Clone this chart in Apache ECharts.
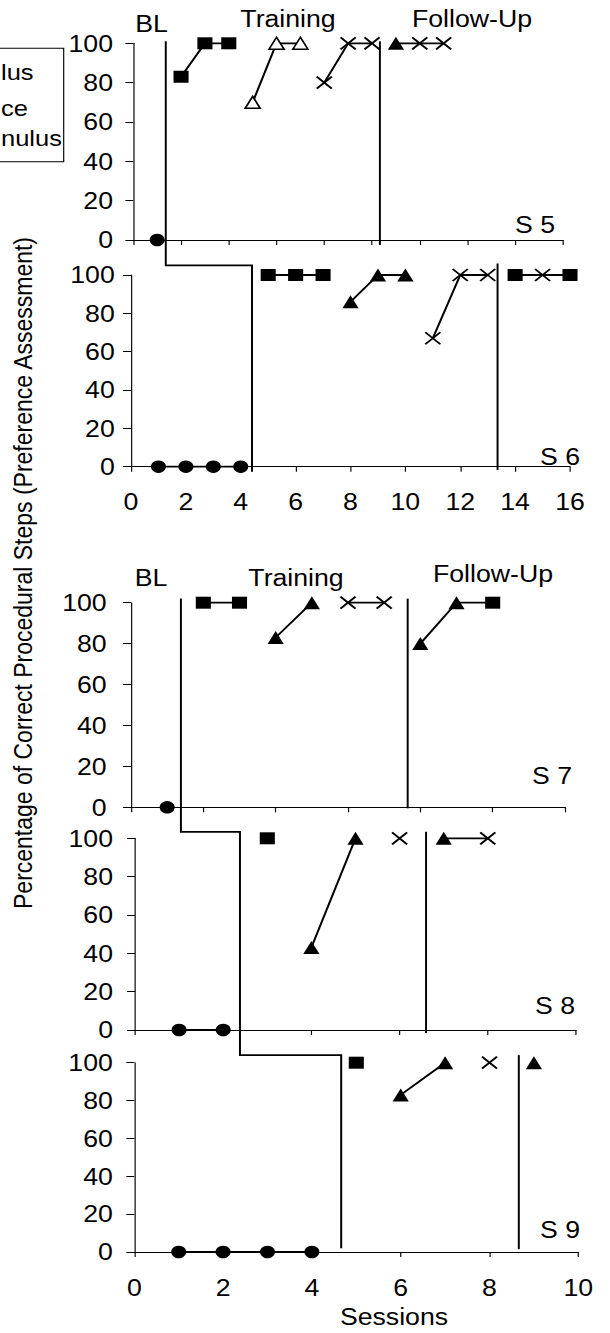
<!DOCTYPE html>
<html><head><meta charset="utf-8">
<script src="https://cdn.jsdelivr.net/npm/echarts@6/dist/echarts.min.js"></script>
<style>
html,body{margin:0;padding:0;background:#fff;overflow:hidden;}
#wrap{width:610px;height:1333px;overflow:hidden;position:relative;background:#fff;}
#c{position:absolute;left:0;top:0;height:1333px;transform-origin:0 0;}
</style></head><body>
<div id="wrap"><div id="c"></div></div>
<script>
// ---------------- DATA ----------------
const PANEL_NAMES = ['S 5', 'S 6', 'S 7', 'S 8', 'S 9'];
const PHASE_NAMES = ['BL', 'Training', 'Follow-Up'];
const X_MAX = [18, 16, 12, 10, 10];
const X_STEP = 2;
const Y_MAX = 100;
const Y_STEP = 20;
const LEGEND_TEXT = ['lus', 'ce', 'nulus']; // visible tails of the cropped legend
const X_TITLE = 'Sessions';
const Y_TITLE = 'Percentage of Correct Procedural Steps (Preference Assessment)';

// [session, percent]
const S5_BASELINE = [[1, 0]];
const S5_SQUARE = [[2, 83], [3, 100], [4, 100]];
const S5_OPEN_TRIANGLE = [[5, 70], [6, 100], [7, 100]];
const S5_CROSS = [[8, 80], [9, 100], [10, 100]];
const S5_FOLLOW_UP = [[11, 100], [12, 100], [13, 100]];
const S5_FOLLOW_UP_MARKS = ['triangle', 'cross', 'cross'];

const S6_BASELINE = [[1, 0], [2, 0], [3, 0], [4, 0]];
const S6_SQUARE = [[5, 100], [6, 100], [7, 100]];
const S6_TRIANGLE = [[8, 86], [9, 100], [10, 100]];
const S6_CROSS = [[11, 67], [12, 100], [13, 100]];
const S6_FOLLOW_UP = [[14, 100], [15, 100], [16, 100]];
const S6_FOLLOW_UP_MARKS = ['square', 'cross', 'square'];

const S7_BASELINE = [[1, 0]];
const S7_SQUARE = [[2, 100], [3, 100]];
const S7_TRIANGLE = [[4, 83], [5, 100]];
const S7_CROSS = [[6, 100], [7, 100]];
const S7_FOLLOW_UP = [[8, 80], [9, 100], [10, 100]];
const S7_FOLLOW_UP_MARKS = ['triangle', 'triangle', 'square'];

const S8_BASELINE = [[1, 0], [2, 0]];
const S8_SQUARE = [[3, 100]];
const S8_TRIANGLE = [[4, 43], [5, 100]];
const S8_CROSS = [[6, 100]];
const S8_FOLLOW_UP = [[7, 100], [8, 100]];
const S8_FOLLOW_UP_MARKS = ['triangle', 'cross'];

const S9_BASELINE = [[1, 0], [2, 0], [3, 0], [4, 0]];
const S9_SQUARE = [[5, 100]];
const S9_TRIANGLE = [[6, 83], [7, 100]];
const S9_CROSS = [[8, 100]];
const S9_FOLLOW_UP = [[9, 100]];
const S9_FOLLOW_UP_MARKS = ['triangle'];

// phase-change positions (session units of each panel)
const BASELINE_END = [1.36, 4.41, 1.38, 2.38, 4.66];
const TRAINING_END = [10.33, 13.36, 7.65, 6.6, 8.66];

// ---------------- LAYOUT ----------------
const SX = 1.16; // the original figure is horizontally stretched
const W = 610 / SX;
const el = document.getElementById('c');
el.style.width = W + 'px';
el.style.transform = 'scaleX(' + SX + ')';
const FONT = '"Liberation Sans", Arial, Helvetica, sans-serif';
const FS = 23;

// [left, top, right, bottom] in page pixels
const GRID_BOX = [
  [133.3, 43.3, 563, 240],
  [131, 275, 570, 466.7],
  [131, 602.7, 565, 807.3],
  [135, 838.3, 576, 1030],
  [134.3, 1062.7, 578.3, 1252]
];
const Y_LABEL_MARGIN = [17.5, 14, 21, 19, 18.5];
const X_LABEL_SHOW = [false, true, false, false, true];
const X_LABEL_MARGIN = [0, 23.5, 0, 0, 24.5];

const PANELS = [
  {base: S5_BASELINE, segs: [[S5_SQUARE, 'square'], [S5_OPEN_TRIANGLE, 'openTriangle'], [S5_CROSS, 'cross']], follow: S5_FOLLOW_UP, marks: S5_FOLLOW_UP_MARKS},
  {base: S6_BASELINE, segs: [[S6_SQUARE, 'square'], [S6_TRIANGLE, 'triangle'], [S6_CROSS, 'cross']], follow: S6_FOLLOW_UP, marks: S6_FOLLOW_UP_MARKS},
  {base: S7_BASELINE, segs: [[S7_SQUARE, 'square'], [S7_TRIANGLE, 'triangle'], [S7_CROSS, 'cross']], follow: S7_FOLLOW_UP, marks: S7_FOLLOW_UP_MARKS},
  {base: S8_BASELINE, segs: [[S8_SQUARE, 'square'], [S8_TRIANGLE, 'triangle'], [S8_CROSS, 'cross']], follow: S8_FOLLOW_UP, marks: S8_FOLLOW_UP_MARKS},
  {base: S9_BASELINE, segs: [[S9_SQUARE, 'square'], [S9_TRIANGLE, 'triangle'], [S9_CROSS, 'cross']], follow: S9_FOLLOW_UP, marks: S9_FOLLOW_UP_MARKS}
];

function sym(kind) {
  switch (kind) {
    case 'circle': return {symbol: 'circle', symbolSize: [13, 12.5], itemStyle: {color: '#000', borderWidth: 0}};
    case 'square': return {symbol: 'rect', symbolSize: [13, 12], itemStyle: {color: '#000', borderWidth: 0}};
    case 'triangle': return {symbol: 'triangle', symbolSize: [14, 13], itemStyle: {color: '#000', borderWidth: 0}};
    case 'openTriangle': return {symbol: 'triangle', symbolSize: [13, 12], itemStyle: {color: '#fff', borderColor: '#000', borderWidth: 1.5}};
    case 'cross': return {symbol: 'path://M0,0L10,10M10,0L0,10', symbolSize: [13, 12], itemStyle: {color: 'rgba(0,0,0,0)', borderColor: '#000', borderWidth: 1.8}};
  }
}

function makeSeries(i, pts, kinds) {
  return {
    type: 'line', xAxisIndex: i, yAxisIndex: i, silent: true, animation: false,
    clip: false, z: 5,
    lineStyle: {color: '#000', width: 1.8},
    showSymbol: true, showAllSymbol: true,
    emphasis: {disabled: true},
    data: pts.map((p, k) => Object.assign({value: p}, sym(kinds[k])))
  };
}

const grids = [], xAxes = [], yAxes = [], series = [];
GRID_BOX.forEach((b, i) => {
  grids.push({left: b[0] / SX, top: b[1], width: (b[2] - b[0]) / SX, height: b[3] - b[1],
    containLabel: false, outerBoundsMode: 'none'});
  xAxes.push({
    type: 'value', gridIndex: i, min: 0, max: X_MAX[i], interval: X_STEP,
    axisLine: {show: true, onZero: false, lineStyle: {color: '#000', width: 1}},
    axisTick: {show: true, inside: false, length: 5, lineStyle: {color: '#000', width: 1}},
    axisLabel: {show: X_LABEL_SHOW[i], margin: X_LABEL_MARGIN[i], fontSize: FS, fontFamily: FONT, color: '#000'},
    splitLine: {show: false}
  });
  yAxes.push({
    type: 'value', gridIndex: i, min: 0, max: Y_MAX, interval: Y_STEP,
    axisLine: {show: true, lineStyle: {color: '#000', width: 1}},
    axisTick: {show: true, inside: false, length: 8 / SX, lineStyle: {color: '#000', width: 1}},
    axisLabel: {show: true, margin: Y_LABEL_MARGIN[i], fontSize: FS, fontFamily: FONT, color: '#000'},
    splitLine: {show: false}
  });
  const p = PANELS[i];
  series.push(makeSeries(i, p.base, p.base.map(() => 'circle')));
  p.segs.forEach(s => series.push(makeSeries(i, s[0], s[0].map(() => s[1]))));
  series.push(makeSeries(i, p.follow, p.marks));
});

const chart = echarts.init(el, null, {renderer: 'svg', width: W, height: 1333});
chart.setOption({
  animation: false,
  backgroundColor: '#fff',
  grid: grids, xAxis: xAxes, yAxis: yAxes, series: series
});

// ---------------- PHASE LINES & TEXT ----------------
function px(g, x) { return chart.convertToPixel({gridIndex: g}, [x, 0])[0]; }
function py(g, y) { return chart.convertToPixel({gridIndex: g}, [0, y])[1]; }
const lineStyle = {stroke: '#000', lineWidth: 1.7, fill: null};
function poly(points) { return {type: 'polyline', silent: true, z: 3, shape: {points: points}, style: lineStyle}; }

const graphics = [];
// top group baseline step
graphics.push(poly([
  [px(0, BASELINE_END[0]), py(0, 101)],
  [px(0, BASELINE_END[0]), py(1, 105)],
  [px(1, BASELINE_END[1]), py(1, 105)],
  [px(1, BASELINE_END[1]), py(1, -2.6)]
]));
graphics.push(poly([[px(0, TRAINING_END[0]), py(0, 101)], [px(0, TRAINING_END[0]), py(0, -2.5)]]));
graphics.push(poly([[px(1, TRAINING_END[1]), py(1, 106)], [px(1, TRAINING_END[1]), py(1, -1.7)]]));
// bottom group baseline step
graphics.push(poly([
  [px(2, BASELINE_END[2]), py(2, 102)],
  [px(2, BASELINE_END[2]), py(3, 103.4)],
  [px(3, BASELINE_END[3]), py(3, 103.4)],
  [px(3, BASELINE_END[3]), py(4, 104)],
  [px(4, BASELINE_END[4]), py(4, 104)],
  [px(4, BASELINE_END[4]), py(4, 2)]
]));
graphics.push(poly([[px(2, TRAINING_END[2]), py(2, 102)], [px(2, TRAINING_END[2]), py(2, -0.5)]]));
graphics.push(poly([[px(3, TRAINING_END[3]), py(3, 103.4)], [px(3, TRAINING_END[3]), py(3, -1.6)]]));
graphics.push(poly([[px(4, TRAINING_END[4]), py(4, 104)], [px(4, TRAINING_END[4]), py(4, 1.5)]]));

function txt(t, x, y, opts) {
  return Object.assign({type: 'text', silent: true, z: 10, x: x / SX, y: y,
    style: Object.assign({text: t, fontSize: FS, fontFamily: FONT, fill: '#000', align: 'center', verticalAlign: 'middle'}, (opts && opts.style) || {})},
    (opts && opts.el) || {});
}
graphics.push(txt(PHASE_NAMES[0], 151.5, 24));
graphics.push(txt(PHASE_NAMES[1], 288, 19));
graphics.push(txt(PHASE_NAMES[2], 472, 19));
graphics.push(txt(PHASE_NAMES[0], 151, 578));
graphics.push(txt(PHASE_NAMES[1], 296, 578));
graphics.push(txt(PHASE_NAMES[2], 493, 574));
const NAME_POS = [[535, 225], [560, 457], [552, 776], [555, 1006], [560, 1230]];
PANEL_NAMES.forEach((n, i) => graphics.push(txt(n, NAME_POS[i][0], NAME_POS[i][1])));
graphics.push(txt(X_TITLE, 394, 1317));
graphics.push(txt(Y_TITLE, 22, 573, {el: {rotation: Math.PI / 2}}));

// cropped legend box at the left edge
graphics.push({type: 'rect', silent: true, z: 10, shape: {x: -10, y: 48.3, width: 63.7 / SX + 10, height: 113.4},
  style: {stroke: '#000', lineWidth: 1, fill: '#fff'}});
const LEG_Y = [71.7, 108.3, 138.3];
LEGEND_TEXT.forEach((t, i) => graphics.push(txt(t, 1, LEG_Y[i], {style: {align: 'left', fontSize: 22}, el: {z: 11}})));

chart.setOption({graphic: graphics});
</script>
</body></html>
